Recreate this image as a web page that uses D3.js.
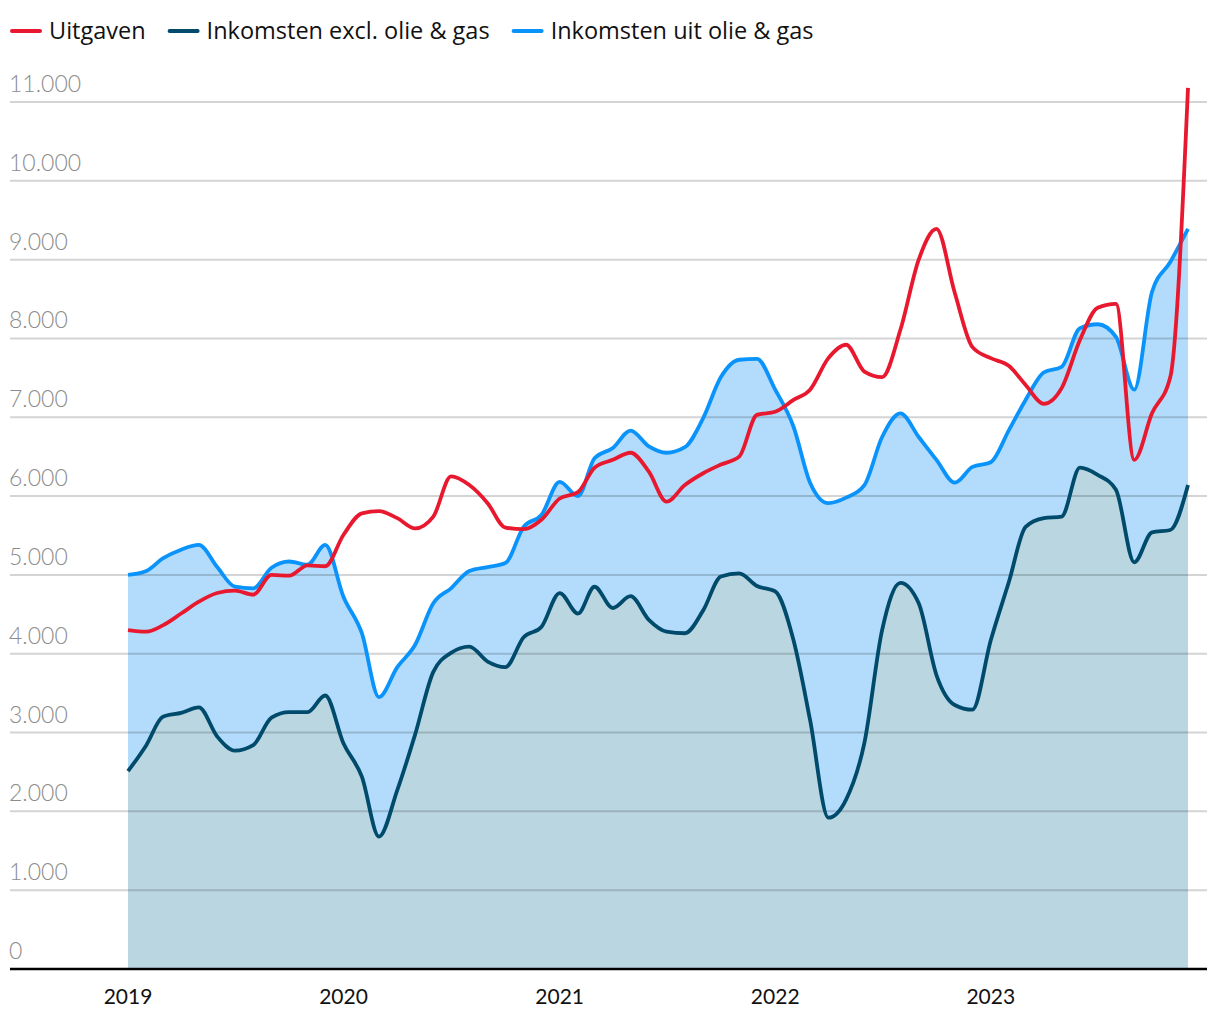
<!DOCTYPE html>
<html><head><meta charset="utf-8">
<script src="https://cdn.jsdelivr.net/npm/d3@7"></script>
<style>body{margin:0;background:#fff}svg{display:block}</style>
</head><body>
<svg id="c" width="1220" height="1020"></svg>
<script>
const startYear = 2019;
const months = d3.range(60).map(i => new Date(startYear + Math.floor(i/12), i%12, 1));
const uitgaven = [4300,4280,4360,4510,4660,4770,4800,4750,5000,4990,5120,5110,
  5510,5780,5810,5720,5590,5740,6250,6140,5910,5600,5580,5700,
  5970,6050,6360,6460,6550,6310,5930,6140,6290,6400,6500,7030,
  7070,7220,7350,7750,7920,7580,7510,8110,9000,9390,8580,7890,
  7750,7650,7410,7170,7370,7980,8390,8440,6460,7050,7510,11180];
const inkExcl = [2510,2840,3200,3250,3320,2950,2770,2840,3190,3260,3260,3470,
  2860,2440,1680,2270,2970,3770,4010,4090,3900,3830,4210,4340,
  4770,4510,4850,4580,4730,4430,4280,4260,4550,4980,5020,4860,
  4790,4170,3160,1920,2150,2870,4300,4900,4640,3730,3350,3290,
  4170,4920,5610,5720,5740,6360,6270,6080,5160,5540,5570,6140];
const inkOlie = [5000,5050,5210,5320,5380,5100,4850,4830,5090,5170,5130,5380,
  4720,4260,3450,3830,4110,4640,4830,5050,5100,5150,5610,5760,
  6180,6000,6480,6610,6830,6630,6550,6620,6990,7510,7730,7740,
  7350,6880,6170,5910,5980,6140,6750,7050,6750,6460,6170,6370,
  6430,6840,7220,7570,7640,8130,8180,8020,7350,8590,8970,9390];
const yTicks = d3.range(0, 12000, 1000);
const yearTicks = [2019,2020,2021,2022,2023];
const seriesNames = ["Uitgaven","Inkomsten excl. olie & gas","Inkomsten uit olie & gas"];
const colors = ["#e8192f","#004a6b","#0a93fa"];

const svg = d3.select("#c");
const x = d3.scaleTime().domain([months[0], months[59]]).range([128, 1188]);
const y = d3.scaleLinear().domain([0, 11000]).range([969, 102]);
const fmt = v => d3.format(",")(v).replace(/,/g, ".");
const curve = d3.curveMonotoneX;

const area = vals => d3.area().x((d,i)=>x(months[i])).y0(y(0)).y1(d=>y(d)).curve(curve)(vals);
const line = vals => d3.line().x((d,i)=>x(months[i])).y(d=>y(d)).curve(curve)(vals);

svg.append("path").attr("d", area(inkOlie)).attr("fill", "#b3dcfc");
svg.append("path").attr("d", area(inkExcl)).attr("fill", "#bad6e0");

// grid
svg.append("g").selectAll("line").data(yTicks.filter(t=>t>0)).join("line")
  .attr("x1", 10).attr("x2", 1207).attr("y1", d=>y(d)).attr("y2", d=>y(d))
  .attr("stroke", "rgba(0,0,0,0.17)").attr("stroke-width", 2);
svg.append("g").selectAll("text").data(yTicks).join("text")
  .attr("x", 9).attr("y", d=>y(d)-10).text(fmt)
  .attr("font-family", "Lato").attr("font-weight", 300).attr("font-size", 23).attr("fill", "#8c8c8c");

// lines
svg.append("path").attr("d", line(inkOlie)).attr("fill","none").attr("stroke", colors[2]).attr("stroke-width", 3.8);
svg.append("path").attr("d", line(inkExcl)).attr("fill","none").attr("stroke", colors[1]).attr("stroke-width", 3.8);
svg.append("path").attr("d", line(uitgaven)).attr("fill","none").attr("stroke", colors[0]).attr("stroke-width", 3.8);

// x axis
svg.append("line").attr("x1", 10).attr("x2", 1207).attr("y1", y(0)).attr("y2", y(0)).attr("stroke", "#000").attr("stroke-width", 2.5);
svg.append("g").selectAll("text").data(yearTicks).join("text")
  .attr("x", d=>x(new Date(d,0,1))).attr("y", 1004).attr("text-anchor","middle").text(d=>d)
  .attr("font-family", "Lato").attr("font-size", 21).attr("fill", "#111");

// legend
const lg = svg.append("g").attr("font-family","Open Sans").attr("font-size",23.5).attr("fill","#111");
let lx = 10;
seriesNames.forEach((n,i)=>{
  lg.append("line").attr("x1", lx+2).attr("x2", lx+30).attr("y1", 31).attr("y2", 31).attr("stroke", colors[i]).attr("stroke-width", 4).attr("stroke-linecap","round");
  const t = lg.append("text").attr("x", lx+39).attr("y", 39).text(n);
  lx = lx + 39 + t.node().getComputedTextLength() + 22;
});
</script>
</body></html>
